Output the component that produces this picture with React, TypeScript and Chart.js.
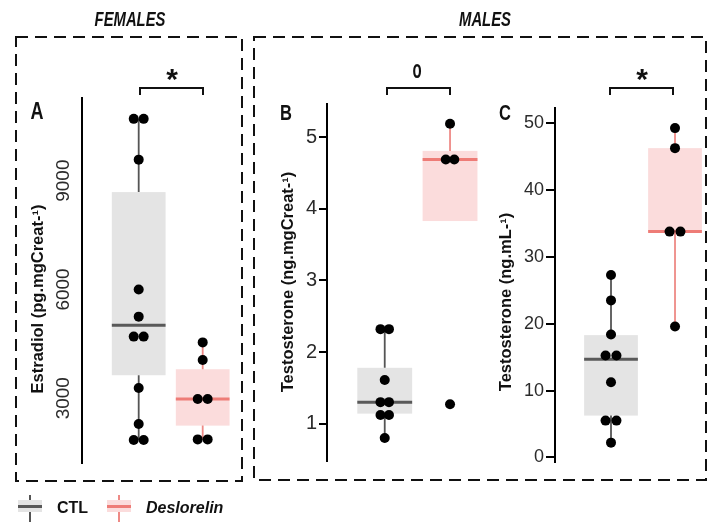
import React, { useEffect, useRef } from "react";
import { Chart, registerables } from "chart.js";

Chart.register(...registerables);

// ---------- DATA ----------
const GROUPS = ["CTL", "Deslorelin"];

// Panel A – Estradiol (pg.mgCreat-1), females
const A_CTL = [10705, 10705, 9580, 6000, 5250, 4700, 4700, 3280, 2290, 1850, 1850];
const A_DES = [4540, 4055, 2980, 2980, 1865, 1865];
// [whisker low, Q1, median, Q3, whisker high]
const A_BOX_CTL = [1850, 3635, 5015, 8685, 10705];
const A_BOX_DES = [1865, 2245, 2980, 3800, 4540];
const A_TICKS = [3000, 6000, 9000];

// Panel B – Testosterone (ng.mgCreat-1), males
const B_CTL = [2.32, 2.32, 1.61, 1.3, 1.3, 1.12, 1.12, 0.8];
const B_DES = [5.19, 4.69, 4.69, 1.27];
const B_BOX_CTL = [0.8, 1.14, 1.3, 1.78, 2.32];
const B_BOX_DES = [3.83, 3.83, 4.69, 4.81, 5.19];
const B_TICKS = [1, 2, 3, 4, 5];

// Panel C – Testosterone (ng.mL-1), males
const C_CTL = [27.3, 23.5, 18.4, 15.25, 15.25, 11.25, 5.5, 5.5, 2.2];
const C_DES = [49.3, 46.3, 33.8, 33.8, 19.6];
const C_BOX_CTL = [2.2, 6.25, 14.7, 18.3, 27.3];
const C_BOX_DES = [19.6, 33.8, 33.8, 46.3, 49.3];
const C_TICKS = [0, 10, 20, 30, 40, 50];

// ---------- STYLE ----------
const FONT = "'Liberation Sans', Arial, Helvetica, sans-serif";
const CTL_FILL = "#e4e4e4";
const CTL_LINE = "#555555";
const CTL_MED = "#595959";
const DES_FILL = "#fbdcdc";
const DES_LINE = "#ee8a86";
const DES_MED = "#ee7c77";
const TICK_COLOR = "#2b2b2b";

type Panel = {
  left: number; top: number; width: number; height: number;
  padTop: number; padBottom: number; axisWidth: number;
  xMin: number; xMax: number; yMin: number; yMax: number;
  ticks: number[]; ctl: number[]; des: number[];
  boxCtl: number[]; boxDes: number[];
  dodge: number; tickSize: number; tickLength: number; tickPadding: number;
  rotated: boolean;
};

const PANELS: Panel[] = [
  {
    left: 50, top: 90, width: 190, height: 385, padTop: 8, padBottom: 12, axisWidth: 32,
    xMin: 0.114, xMax: 2.583, yMin: 1214, yMax: 11280, ticks: A_TICKS,
    ctl: A_CTL, des: A_DES, boxCtl: A_BOX_CTL, boxDes: A_BOX_DES,
    dodge: 0.155, tickSize: 19, tickLength: 0, tickPadding: -11, rotated: true,
  },
  {
    left: 290, top: 90, width: 200, height: 385, padTop: 8, padBottom: 11, axisWidth: 37,
    xMin: 0.116, xMax: 2.612, yMin: 0.478, yMax: 5.465, ticks: B_TICKS,
    ctl: B_CTL, des: B_DES, boxCtl: B_BOX_CTL, boxDes: B_BOX_DES,
    dodge: 0.13, tickSize: 20, tickLength: 8, tickPadding: 2, rotated: false,
  },
  {
    left: 515, top: 95, width: 194, height: 380, padTop: 8, padBottom: 9, axisWidth: 40,
    xMin: 0.125, xMax: 2.531, yMin: -0.73, yMax: 52.34, ticks: C_TICKS,
    ctl: C_CTL, des: C_DES, boxCtl: C_BOX_CTL, boxDes: C_BOX_DES,
    dodge: 0.17, tickSize: 18, tickLength: 9, tickPadding: 2, rotated: false,
  },
];

function dodge(values: number[], center: number, step: number) {
  const counts = new Map<number, number>();
  values.forEach((v) => counts.set(v, (counts.get(v) || 0) + 1));
  const seen = new Map<number, number>();
  return values.map((v) => {
    const n = counts.get(v) || 1;
    const i = seen.get(v) || 0;
    seen.set(v, i + 1);
    return { x: center + (i - (n - 1) / 2) * step, y: v };
  });
}

function buildChart(canvas: HTMLCanvasElement, p: Panel) {
  const boxes = [
    { stats: p.boxCtl, fill: CTL_FILL, line: CTL_LINE, med: CTL_MED },
    { stats: p.boxDes, fill: DES_FILL, line: DES_LINE, med: DES_MED },
  ];
  const half = 0.42;
  const boxPlugin = {
    id: "boxplots",
    beforeDatasetsDraw(chart: any) {
      const { ctx } = chart;
      const xs = chart.scales.x;
      const ys = chart.scales.y;
      boxes.forEach((b, i) => {
        const [lo, q1, med, q3, hi] = b.stats;
        const c = i + 1;
        const xl = xs.getPixelForValue(c - half);
        const xr = xs.getPixelForValue(c + half);
        const xc = xs.getPixelForValue(c);
        const yq1 = ys.getPixelForValue(q1);
        const yq3 = ys.getPixelForValue(q3);
        ctx.save();
        ctx.fillStyle = b.fill;
        ctx.fillRect(xl, yq3, xr - xl, yq1 - yq3);
        ctx.strokeStyle = b.line;
        ctx.lineWidth = 1.8;
        ctx.beginPath();
        ctx.moveTo(xc, ys.getPixelForValue(hi));
        ctx.lineTo(xc, yq3);
        ctx.moveTo(xc, yq1);
        ctx.lineTo(xc, ys.getPixelForValue(lo));
        ctx.stroke();
        ctx.strokeStyle = b.med;
        ctx.lineWidth = 3;
        ctx.beginPath();
        const ym = ys.getPixelForValue(med);
        ctx.moveTo(xl, ym);
        ctx.lineTo(xr, ym);
        ctx.stroke();
        ctx.restore();
      });
    },
  };

  const yTicks: any = {
    color: TICK_COLOR,
    font: { family: FONT, size: p.tickSize },
    padding: p.tickPadding,
    autoSkip: false,
    callback: (v: any) => String(v),
  };
  if (p.rotated) {
    yTicks.minRotation = 90;
    yTicks.maxRotation = 90;
    yTicks.crossAlign = "center";
  }

  return new Chart(canvas, {
    type: "scatter",
    data: {
      datasets: [
        {
          label: GROUPS.join(" / "),
          data: [...dodge(p.ctl, 1, p.dodge), ...dodge(p.des, 2, p.dodge)],
          pointRadius: 5,
          pointHoverRadius: 5,
          backgroundColor: "#000",
          borderWidth: 0,
        },
      ],
    },
    options: {
      animation: false,
      responsive: false,
      events: [],
      layout: {
        autoPadding: false,
        padding: { top: p.padTop, bottom: p.padBottom, left: 0, right: 0 },
      },
      plugins: { legend: { display: false }, tooltip: { enabled: false } },
      scales: {
        x: { type: "linear", min: p.xMin, max: p.xMax, display: false },
        y: {
          type: "linear",
          min: p.yMin,
          max: p.yMax,
          afterBuildTicks: (s: any) => {
            s.ticks = p.ticks.map((v) => ({ value: v }));
          },
          afterFit: (s: any) => {
            s.width = p.axisWidth;
          },
          border: { display: true, color: "#000", width: 2 },
          grid: p.rotated
            ? { display: false }
            : {
                display: true,
                drawOnChartArea: false,
                drawTicks: true,
                tickLength: p.tickLength,
                color: "#000",
                lineWidth: 2,
              },
          ticks: yTicks,
        },
      },
    } as any,
    plugins: [boxPlugin as any],
  });
}

const abs = (l: number, t: number): React.CSSProperties => ({ position: "absolute", left: l, top: t });

function Centered({ x, y, size, bold = true, italic = false, rotate = false, sx = 1, children }: any) {
  return (
    <div
      style={{
        position: "absolute",
        left: x,
        top: y,
        transform: `translate(-50%, -50%)${rotate ? " rotate(-90deg)" : ""}${sx !== 1 ? ` scaleX(${sx})` : ""}`,
        whiteSpace: "nowrap",
        fontFamily: FONT,
        fontSize: size,
        fontWeight: bold ? 700 : 400,
        fontStyle: italic ? "italic" : "normal",
        lineHeight: 1,
        color: "#111",
      }}
    >
      {children}
    </div>
  );
}

function LegendKey({ x, fill, line, med }: { x: number; fill: string; line: string; med: string }) {
  return (
    <>
      <div style={{ ...abs(x + 11, 495), width: 2, height: 27, background: line }} />
      <div style={{ ...abs(x, 500), width: 24, height: 12, background: fill }} />
      <div style={{ ...abs(x, 505), width: 24, height: 3, background: med }} />
    </>
  );
}

export default function App() {
  const r0 = useRef<HTMLCanvasElement>(null);
  const r1 = useRef<HTMLCanvasElement>(null);
  const r2 = useRef<HTMLCanvasElement>(null);

  useEffect(() => {
    const refs = [r0, r1, r2];
    const charts = PANELS.map((p, i) => buildChart(refs[i].current as HTMLCanvasElement, p));
    return () => charts.forEach((c) => c.destroy());
  }, []);

  const refs = [r0, r1, r2];

  return (
    <div style={{ position: "absolute", left: 0, top: 0, width: 709, height: 522, background: "#fff", overflow: "hidden" }}>
      {PANELS.map((p, i) => (
        <canvas
          key={i}
          ref={refs[i]}
          width={p.width}
          height={p.height}
          style={{ position: "absolute", left: p.left, top: p.top, width: p.width, height: p.height }}
        />
      ))}

      <svg width={709} height={522} style={{ position: "absolute", left: 0, top: 0, pointerEvents: "none" }}>
        <rect x={16} y={37} width={226} height={444} fill="none" stroke="#111" strokeWidth={2} strokeDasharray="12 7" />
        <rect x={254} y={37} width={452} height={443} fill="none" stroke="#111" strokeWidth={2} strokeDasharray="12 7" />
        <path d="M140 95 L140 88 L203 88 L203 95" fill="none" stroke="#111" strokeWidth={2} />
        <path d="M387 95 L387 88 L450 88 L450 95" fill="none" stroke="#111" strokeWidth={2} />
        <path d="M610 95 L610 88 L673 88 L673 95" fill="none" stroke="#111" strokeWidth={2} />
      </svg>

      <Centered x={130} y={20} size={19.5} italic sx={0.76}>FEMALES</Centered>
      <Centered x={484.5} y={20} size={19.5} italic sx={0.76}>MALES</Centered>

      <Centered x={37} y={111} size={24} sx={0.75}>A</Centered>
      <Centered x={286} y={112.5} size={22} sx={0.75}>B</Centered>
      <Centered x={505} y={113} size={22} sx={0.75}>C</Centered>

      <div style={{ ...abs(172, 64), transform: "translateX(-50%)", fontFamily: FONT, fontWeight: 700, fontSize: 30, lineHeight: 1, color: "#111" }}>*</div>
      <div style={{ ...abs(642, 64), transform: "translateX(-50%)", fontFamily: FONT, fontWeight: 700, fontSize: 30, lineHeight: 1, color: "#111" }}>*</div>
      <div style={{ ...abs(417, 57), transform: "translateX(-50%) scaleX(0.6)", fontFamily: FONT, fontWeight: 700, fontSize: 25, lineHeight: 1, color: "#111" }}>o</div>

      <Centered x={37} y={299} size={16.5} rotate>Estradiol (pg.mgCreat-¹)</Centered>
      <Centered x={287} y={282} size={16.5} rotate>Testosterone (ng.mgCreat-¹)</Centered>
      <Centered x={505} y={302} size={16.5} rotate>Testosterone (ng.mL-¹)</Centered>

      <LegendKey x={18} fill={CTL_FILL} line={CTL_LINE} med={CTL_MED} />
      <div style={{ ...abs(57, 500), fontFamily: FONT, fontWeight: 700, fontSize: 16, lineHeight: 1, color: "#111" }}>{GROUPS[0]}</div>
      <LegendKey x={107} fill={DES_FILL} line={DES_LINE} med={DES_MED} />
      <div style={{ ...abs(146, 500), fontFamily: FONT, fontWeight: 700, fontStyle: "italic", fontSize: 16, lineHeight: 1, color: "#111" }}>{GROUPS[1]}</div>
    </div>
  );
}
